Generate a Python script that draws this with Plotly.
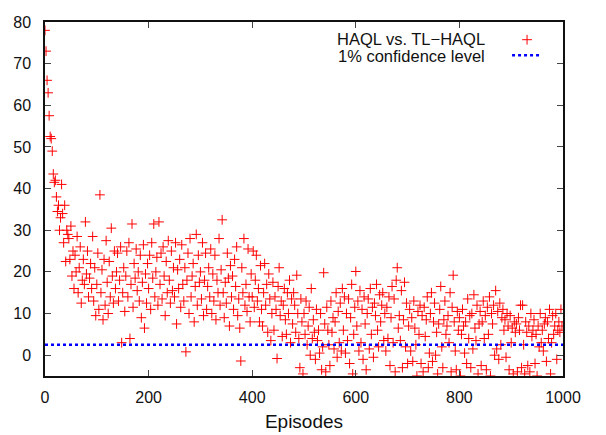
import plotly.graph_objects as go

# Episode numbers (every 2nd episode) and values
episodes = list(range(0, 1000, 2))
diff_values = [
    78, 73, 66, 63, 57.5, 52.5, 52, 49, 43.5, 41.5,
    42, 38, 34.5, 36, 30, 33, 41, 34, 27, 36,
    22.5, 30, 29, 28, 23, 31, 19, 25, 16, 24,
    20, 28.5, 15, 21, 26, 12.5, 18, 23, 17, 32,
    19.5, 25, 14, 18.5, 22, 16, 28.5, 13, 21, 9.5,
    17, 24.5, 11, 38.5, 15, 20.5, 8.5, 23, 12, 27.5,
    17.5, 10, 22.5, 14, 30.5, 19, 12.5, 25, 16, 20,
    24.5, 13, 18, 26, 3, 15, 21, 10.5, 19, 25,
    14, 27, 4, 17, 31.5, 11.5, 22, 18.5, 25.5, 15.5,
    20, 13, 24, 9, 17.5, 26.5, 6.5, 19.5, 12.5, 22,
    16, 24, 11, 27, 18.5, 31.5, 14, 20, 23.5, 12,
    32, 17, 24.5, 13.5, 26, 19, 9.5, 22.5, 15, 27.5,
    18, 12.5, 25, 15.5, 21, 14, 27, 7.5, 20.5, 16,
    23, 11.5, 26.5, 17, 13, 21, 0.8, 18, 24.5, 10,
    28, 14, 19, 22, 8, 16.5, 29, 12, 24, 17.5,
    20, 13.5, 27, 9.5, 18, 24.5, 11, 16.5, 21, 14,
    25.5, 10, 19.5, 13, 24, 8.5, 18, 15, 28, 12,
    20.5, 32.5, 15, 9, 17.5, 12.5, 24.5, 18.5, 7, 21.5,
    14, 19, 11, 23, 16.5, 26, 9.5, 13.5, 6.5, -1.4,
    21, 15, 28, 12, 17, 10.5, 25.5, 14, 8, 19.5,
    14, 25, 11.5, 18, 24, 13, 16, 8, 21.5, 11,
    7, 15, 22, 12, 17, 5.5, 19.5, 13.5, 3.5, 10,
    17.5, 6, 14, 11, -0.8, 16.5, 21, 9.5, 13, 4.5,
    12, 16, 8.5, 5, 15, 10, 18, 3, 13.5, 7.5,
    15, 12, 5.5, 19.2, 10, 4, -3, 13.5, 8, -4.5,
    10, 5, 13, 2.5, 7, 11.5, 0, 16, 4, 8.5,
    5.5, -1, 11, 3.5, 6, 0.5, 10, -3.5, 2, 19.8,
    7.5, -4, 11.5, 6, 2.5, -2.5, 13, 5.5, 9, 1.5,
    8, 15, -0.5, 10.5, 3, 12.5, 1, 16, 6, 14,
    0.5, 10, 3.5, 13.5, -2, 9, 17, -4.5, 5, 11.5,
    20.1, 7, 13, 1, 15.5, 3, 11, -1, 14, 7.5,
    -3.5, 10, 13.5, 1.5, 16, 5, 11.5, -0.5, 12.5, 9.5,
    17, 6, 2, 14.5, 8, 12, 15, 3.5, 10, 1,
    11.5, 4, 14, -2.5, 9, 16.5, 3, 13.5, -4, 18,
    21, 6.5, 9.5, 3.5, 15.5, -3, 8.5, 17.5, 2, 12.5,
    -2, 7, 11, 1, 9, -1.5, 13, 6.5, 2.5, -5,
    10.5, 5, 12, -2, 9.5, -4, 11.5, 4.5, 8.5, 14,
    -3, 0.5, 10, 15, -1.5, 8, 12.5, 0, 5.5, -4.5,
    7.5, 11, 16.5, 2, -3, 8.5, 13, 5, 7, 9.5,
    3, 15, -4, 11.5, 19.2, 8, 1, -3.5, 10.5, 6,
    9, -5, 5, 11, 7, 0.5, 8, -2, 13.5, 4,
    9.5, -3, 10, 1.5, 14.5, 6.5, 3.5, 12, -4.5, 7.5,
    10.5, -2.5, 8, 13, 4, 9.5, -3.5, 11.5, 5, 14,
    -5, 10, 7.5, 12, 0, 15.5, 1.5, 10.5, -1, 12.5,
    2.5, 9, 11, 6, 8.5, -0.5, 10, 7, -3.5, 9.5,
    3, 6.5, -4.5, 8, 5.5, 7.5, -4, 9, 6, 12,
    -3, 12, 2.5, -4.5, 8, 5.5, -2.5, 7, -4, 10,
    4.5, 6, 8.5, -2, 5, -5, 7, 2, 10, 3,
    6, 1, 7.5, 9, -1.5, 8, 4, 11, -4.5, 3,
    9.5, 5, 7, 10, -1, 6, 8, 5.5, 11, 7,
]

confidence_x = [0, 1000]
confidence_y = [2.5, 2.5]

series_names = ["HAQL vs. TL\u2212HAQL", "1% confidence level"]
x_ticks = [0, 200, 400, 600, 800, 1000]
y_ticks = [0, 10, 20, 30, 40, 50, 60, 70, 80]

FONT = "Liberation Sans, Arial, Helvetica, sans-serif"
TXT = "#111111"

fig = go.Figure()
fig.add_trace(go.Scatter(
    x=episodes, y=diff_values, mode="markers", name="", legend="legend",
    marker=dict(symbol="cross-thin", size=7, color="rgba(0,0,0,0)",
                line=dict(color="#ff0000", width=1)),
))
fig.add_trace(go.Scatter(
    x=confidence_x, y=confidence_y, mode="lines", name="", legend="legend2",
    line=dict(color="#0000ff", width=2.5, dash="dot"),
))

leg_common = dict(x=0.892, xanchor="left", yanchor="middle",
                  bgcolor="rgba(0,0,0,0)", font=dict(size=10))

fig.update_layout(
    width=598, height=427,
    margin=dict(l=35.5, r=43, t=5.5, b=53),
    paper_bgcolor="white", plot_bgcolor="white",
    font=dict(family=FONT, size=16, color=TXT),
    showlegend=True,
    legend=dict(y=0.950, **leg_common),
    legend2=dict(y=0.906, **leg_common),
    annotations=[
        dict(text=series_names[0], x=0.852, y=0.952, xref="paper", yref="paper",
             xanchor="right", yanchor="middle", showarrow=False, borderpad=0,
             font=dict(family=FONT, size=16.5, color=TXT)),
        dict(text=series_names[1], x=0.852, y=0.904, xref="paper", yref="paper",
             xanchor="right", yanchor="middle", showarrow=False, borderpad=0,
             font=dict(family=FONT, size=16.5, color=TXT)),
    ],
)
fig.update_xaxes(
    range=[0, 1000], tickvals=x_ticks, ticktext=[str(v) for v in x_ticks],
    showgrid=False, zeroline=False, showline=True, linecolor=TXT, linewidth=1.5,
    mirror="ticks", ticks="inside", ticklen=6, tickcolor="#444444", tickwidth=1,
    ticklabelstandoff=6, ticklabeloverflow="allow",
    title=dict(text="Episodes", standoff=10),
)
fig.update_yaxes(
    range=[-5, 80], tickvals=y_ticks, ticktext=[str(v) for v in y_ticks],
    showgrid=False, zeroline=False, showline=True, linecolor=TXT, linewidth=1.5,
    mirror="ticks", ticks="inside", ticklen=6, tickcolor="#444444", tickwidth=1,
    ticklabelstandoff=9, ticklabeloverflow="allow",
)

fig.write_html("out.html", config={"displayModeBar": False})
